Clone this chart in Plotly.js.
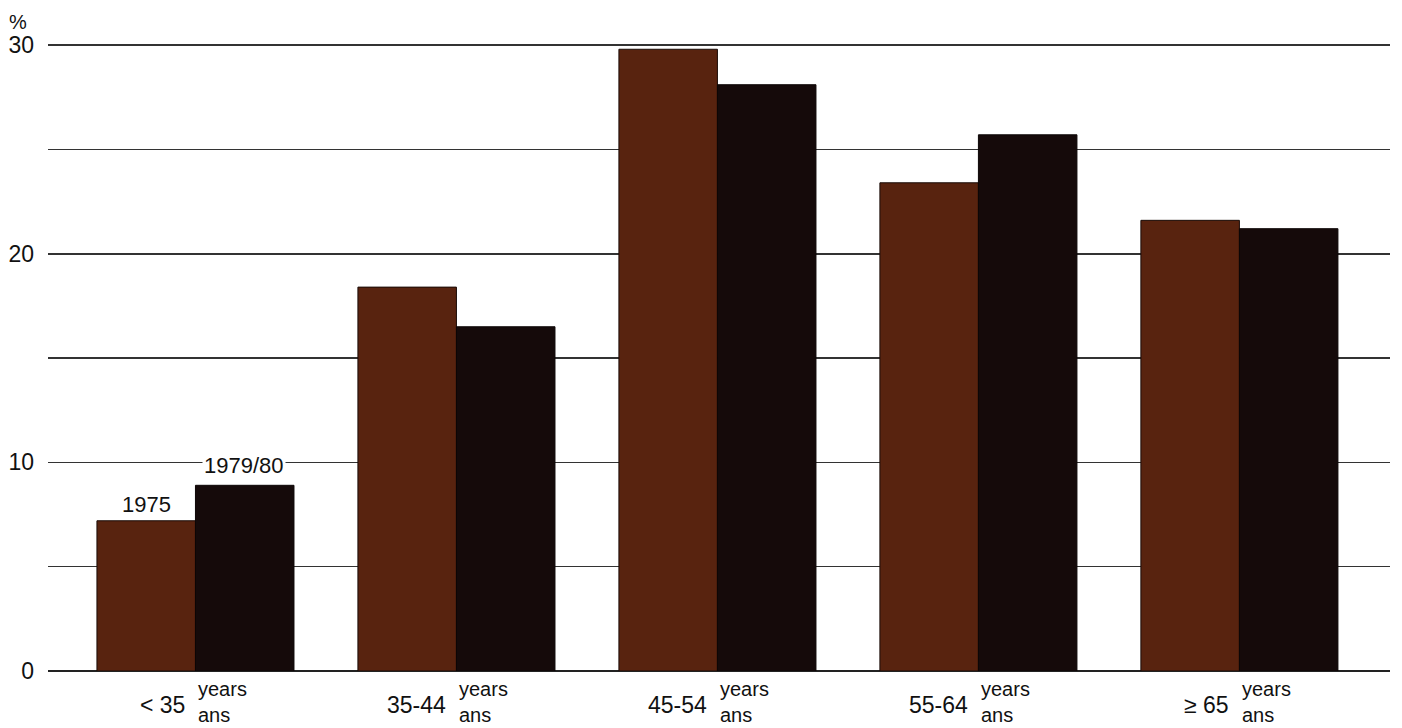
<!DOCTYPE html>
<html>
<head>
<meta charset="utf-8">
<script src="https://cdn.plot.ly/plotly-3.0.1.min.js"></script>
<style>html,body{margin:0;padding:0;background:#fff;}#chart{width:1402px;height:728px;}</style>
</head>
<body>
<div id="chart"></div>
<script>
const categories = ["<35", "35-44", "45-54", "55-64", ">=65"];
const ageNumbers = ["< 35", "35-44", "45-54", "55-64", "≥ 65"];
const unitTop = "years";
const unitBottom = "ans";
const series1975 = [7.2, 18.4, 29.8, 23.4, 21.6];
const series1979 = [8.9, 16.5, 28.1, 25.7, 21.2];
const seriesNames = ["1975", "1979/80"];
const yTickVals = [0, 5, 10, 15, 20, 25, 30];
const yTickText = ["0", "", "10", "", "20", "", "30"];

const FONT = "Liberation Sans, Arial, Helvetica, sans-serif";

const traces = [
  {type: "bar", x: categories, y: series1975, name: seriesNames[0],
   marker: {color: "#58230f", line: {color: "#1a0c08", width: 1}}},
  {type: "bar", x: categories, y: series1979, name: seriesNames[1],
   marker: {color: "#150a0a", line: {color: "#0c0606", width: 1}}}
];

const annotations = [];
annotations.push({x: categories[0], y: series1975[0], xref: "x", yref: "y", text: seriesNames[0],
  showarrow: false, xshift: -49, yanchor: "bottom", yshift: 2,
  font: {family: FONT, size: 22, color: "#111"}});
annotations.push({x: categories[0], y: series1979[0], xref: "x", yref: "y", text: seriesNames[1],
  showarrow: false, xshift: 49, yanchor: "bottom", yshift: 5, bgcolor: "#ffffff", borderpad: 1,
  font: {family: FONT, size: 22, color: "#111"}});
categories.forEach((c, i) => {
  annotations.push({x: c, y: 0, xref: "x", yref: "paper", text: ageNumbers[i],
    showarrow: false, xanchor: "right", yanchor: "middle", xshift: -8, yshift: -34,
    font: {family: FONT, size: 23, color: "#111"}});
  annotations.push({x: c, y: 0, xref: "x", yref: "paper", text: unitTop,
    showarrow: false, xanchor: "left", yanchor: "middle", xshift: 1, yshift: -18,
    font: {family: FONT, size: 20, color: "#111"}});
  annotations.push({x: c, y: 0, xref: "x", yref: "paper", text: unitBottom,
    showarrow: false, xanchor: "left", yanchor: "middle", xshift: 1, yshift: -44,
    font: {family: FONT, size: 20, color: "#111"}});
});
annotations.push({x: 0, y: 1, xref: "paper", yref: "paper", text: "%", showarrow: false,
  xanchor: "right", yanchor: "bottom", xshift: -19, yshift: 8,
  font: {family: FONT, size: 20, color: "#111"}});

const layout = {
  width: 1402, height: 728,
  margin: {l: 48, r: 12, t: 43, b: 57},
  paper_bgcolor: "#ffffff", plot_bgcolor: "#ffffff",
  showlegend: false,
  barmode: "group", bargap: 0.245, bargroupgap: 0,
  xaxis: {type: "category", range: [-0.565, 4.577], showticklabels: false, showgrid: false,
    zeroline: false, showline: false, ticks: ""},
  yaxis: {range: [0, 30.1], tickvals: yTickVals, ticktext: yTickText, showgrid: true,
    gridcolor: "#333333", gridwidth: 1.6, zeroline: true, zerolinecolor: "#222", zerolinewidth: 1.8,
    showline: false, ticks: "", ticklabelstandoff: 13,
    tickfont: {family: FONT, size: 23, color: "#111"}},
  annotations: annotations,
  font: {family: FONT}
};

Plotly.newPlot("chart", traces, layout, {displayModeBar: false, staticPlot: true});
</script>
</body>
</html>
